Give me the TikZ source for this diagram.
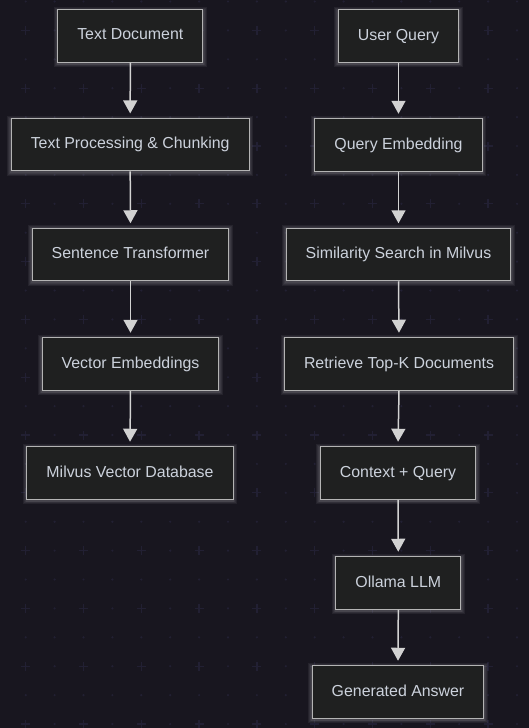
\documentclass[tikz,border=0pt]{standalone}
\usepackage{fontspec}
\setmainfont{Liberation Sans}
\usetikzlibrary{arrows.meta}
\definecolor{bgc}{HTML}{18161F}
\definecolor{gridc}{HTML}{222033}
\definecolor{boxfill}{HTML}{1F2020}
\definecolor{boxline}{HTML}{B4B4B4}
\definecolor{glowc}{HTML}{D8D8D8}
\definecolor{txtc}{HTML}{CCD2DC}
\definecolor{arrc}{HTML}{D2D2D2}
\tikzset{
  glowpass/.style={preaction={draw=glowc, line width=#1, draw opacity=0.07,
      transform canvas={yshift=-1.2pt}}},
  box/.style={draw=boxline, line width=1pt, fill=boxfill, text=txtc,
    minimum height=52.5pt, inner xsep=19.5pt, text height=11.6pt, text depth=3.4pt,
    font=\fontsize{15.9}{19}\selectfont,
    glowpass=8pt, glowpass=6pt, glowpass=4pt, glowpass=2.5pt},
  flow/.style={draw=arrc, line width=1.5pt, shorten >=4.5pt,
    -{Triangle[width=14pt,length=13pt]}, arrc}
}
\begin{document}
\begin{tikzpicture}[x=1pt,y=-1pt]
\fill[bgc] (0,0) rectangle (529,728);
\useasboundingbox (0,0) rectangle (529,728);
% background grid
\foreach \i in {0,...,18}{
  \foreach \j in {0,...,25}{
    \fill[gridc] ({25.7+28.9*\i},{1.5+28.9*\j}) circle (1.2);
  }
}
\foreach \i in {0,2,...,18}{
  \foreach \j in {1,3,...,25}{
    \draw[gridc, line width=1.3pt] ({25.7+28.9*\i-4.5},{1.5+28.9*\j}) -- ++(9,0)
      ({25.7+28.9*\i},{1.5+28.9*\j-4.5}) -- ++(0,9);
  }
}
% left column
\node[box] (l1) at (130.3,35.8) {Text Document};
\node[box] (l2) at (130.2,144.7) {Text Processing \& Chunking};
\node[box] (l3) at (130.5,254.5) {Sentence Transformer};
\node[box] (l4) at (130.5,364) {Vector Embeddings};
\node[box] (l5) at (130,473) {Milvus Vector Database};
% right column
\node[box] (r1) at (398.5,36) {User Query};
\node[box] (r2) at (398.5,145) {Query Embedding};
\node[box] (r3) at (398.5,254.5) {Similarity Search in Milvus};
\node[box] (r4) at (399,364) {Retrieve Top-K Documents};
\node[box] (r5) at (398,473) {Context + Query};
\node[box] (r6) at (398.3,583) {Ollama LLM};
\node[box] (r7) at (398,692) {Generated Answer};
% connectors
\draw[flow] (l1.south) -- (l2.north);
\draw[flow] (l2.south) -- (l3.north);
\draw[flow] (l3.south) -- (l4.north);
\draw[flow] (l4.south) -- (l5.north);
\draw[flow] (r1.south) -- (r2.north);
\draw[flow] (r2.south) -- (r3.north);
\draw[flow] (r3.south) -- (r4.north);
\draw[flow] (r4.south) -- (r5.north);
\draw[flow] (r5.south) -- (r6.north);
\draw[flow] (r6.south) -- (r7.north);
\end{tikzpicture}
\end{document}
